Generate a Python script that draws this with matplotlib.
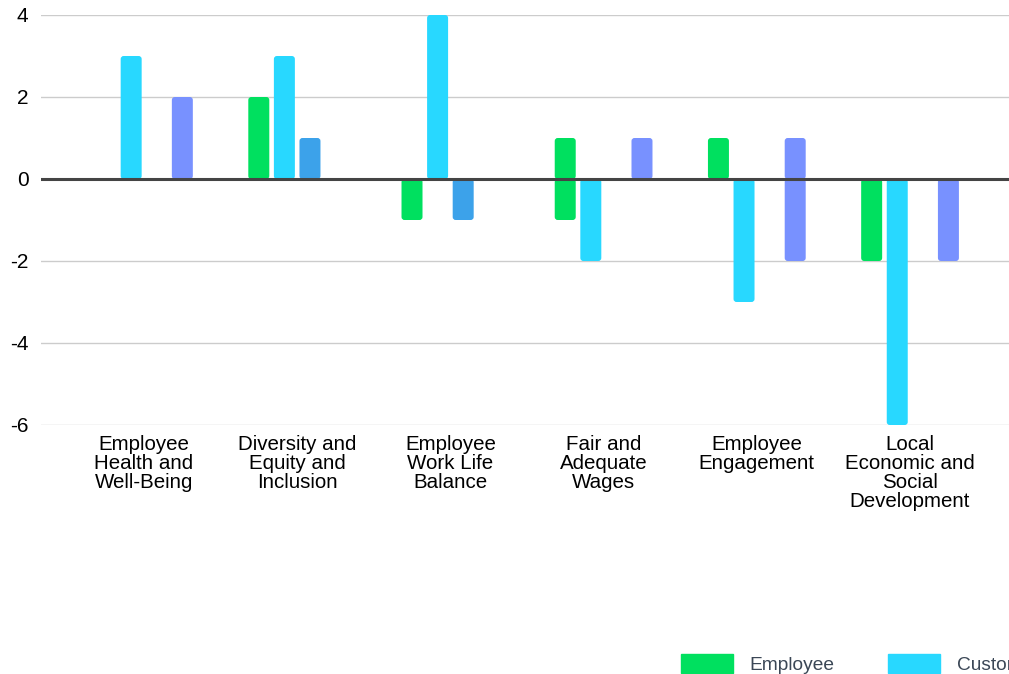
import numpy as np
import matplotlib
matplotlib.use("Agg")
import matplotlib.pyplot as plt
from matplotlib.patches import FancyBboxPatch

categories = [
    "Employee\nHealth and\nWell-Being",
    "Diversity and\nEquity and\nInclusion",
    "Employee\nWork Life\nBalance",
    "Fair and\nAdequate\nWages",
    "Employee\nEngagement",
    "Local\nEconomic and\nSocial\nDevelopment",
]
series_names = ["Employee", "Customer", "Supplier", "Community"]
series_colors = ["#00e05f", "#28d8ff", "#3ca2ea", "#7891ff"]

# positive and negative parts of each series, per category
employee_pos = [0, 2, 0, 1, 1, 0]
employee_neg = [0, 0, -1, -1, 0, -2]
customer_pos = [3, 3, 4, 0, 0, 0]
customer_neg = [0, 0, 0, -2, -3, -6]
supplier_pos = [0, 1, 0, 0, 0, 0]
supplier_neg = [0, 0, -1, 0, 0, 0]
community_pos = [2, 0, 0, 1, 1, 0]
community_neg = [0, 0, 0, 0, -2, -2]

pos_values = [employee_pos, customer_pos, supplier_pos, community_pos]
neg_values = [employee_neg, customer_neg, supplier_neg, community_neg]

yticks = [-6, -4, -2, 0, 2, 4]

W, H = 1009, 674
fig = plt.figure(figsize=(W / 100, H / 100), dpi=100)
plt.rcParams["font.family"] = ["Liberation Sans", "DejaVu Sans"]

ax_left, ax_right, ax_top, ax_bottom = 41, 1013, 15, 425
ax = fig.add_axes([ax_left / W, 1 - ax_bottom / H,
                   (ax_right - ax_left) / W, (ax_bottom - ax_top) / H])

x = np.arange(len(categories))
slot = 0.167
bar_w = 0.137
offsets = (np.arange(len(series_names)) - 1.5) * slot

ax.set_xlim(-0.672, 5.672)
ax.set_ylim(-6, 4)

# rounding radius in x-data units, with aspect so corners look circular
px_x = (ax_right - ax_left) / (5.672 + 0.672)
px_y = (ax_bottom - ax_top) / 10.0
r = 3.0 / px_x
aspect = (3.0 / px_y) / r

for i, (name, color) in enumerate(zip(series_names, series_colors)):
    for vals in (pos_values[i], neg_values[i]):
        bars = ax.bar(x + offsets[i], vals, width=bar_w, color=color)
        for rect in bars:
            x0, y0 = rect.get_x(), rect.get_y()
            w, h = rect.get_width(), rect.get_height()
            rect.set_visible(False)
            if h == 0:
                continue
            yb = min(y0, y0 + h)
            hh = abs(h)
            ax.add_patch(FancyBboxPatch(
                (x0, yb), w, hh,
                boxstyle=f"round,pad=0,rounding_size={r}",
                mutation_aspect=aspect, facecolor=color,
                edgecolor="none", zorder=2))

ax.set_yticks(yticks)
ax.set_yticklabels([str(v) for v in yticks], fontsize=15, color="black")
ax.set_xticks(x)
ax.set_xticklabels(categories, fontsize=14.8, color="black", linespacing=1.0,
                   va="top")
ax.tick_params(axis="both", length=0)
ax.tick_params(axis="y", pad=9)
ax.tick_params(axis="x", pad=7)

ax.grid(axis="y", color="#cccccc", linewidth=1.0, zorder=0)
ax.set_axisbelow(True)
ax.axhline(0, color="#444444", linewidth=2.2, zorder=3)
for s in ax.spines.values():
    s.set_visible(False)

handles = [plt.Rectangle((0, 0), 1, 1, color=c) for c in series_colors]
fig.legend(handles, series_names, loc="center left",
           bbox_to_anchor=(681 / W, 1 - 664 / H), ncol=4, frameon=False,
           handlelength=2.7, handleheight=1.15,
           handletextpad=0.88, columnspacing=2.8, borderpad=0,
           borderaxespad=0, labelcolor="#3b4756",
           prop={"family": ["Liberation Sans", "DejaVu Sans"], "size": 13.8})

fig.savefig("out.png", dpi=100)
